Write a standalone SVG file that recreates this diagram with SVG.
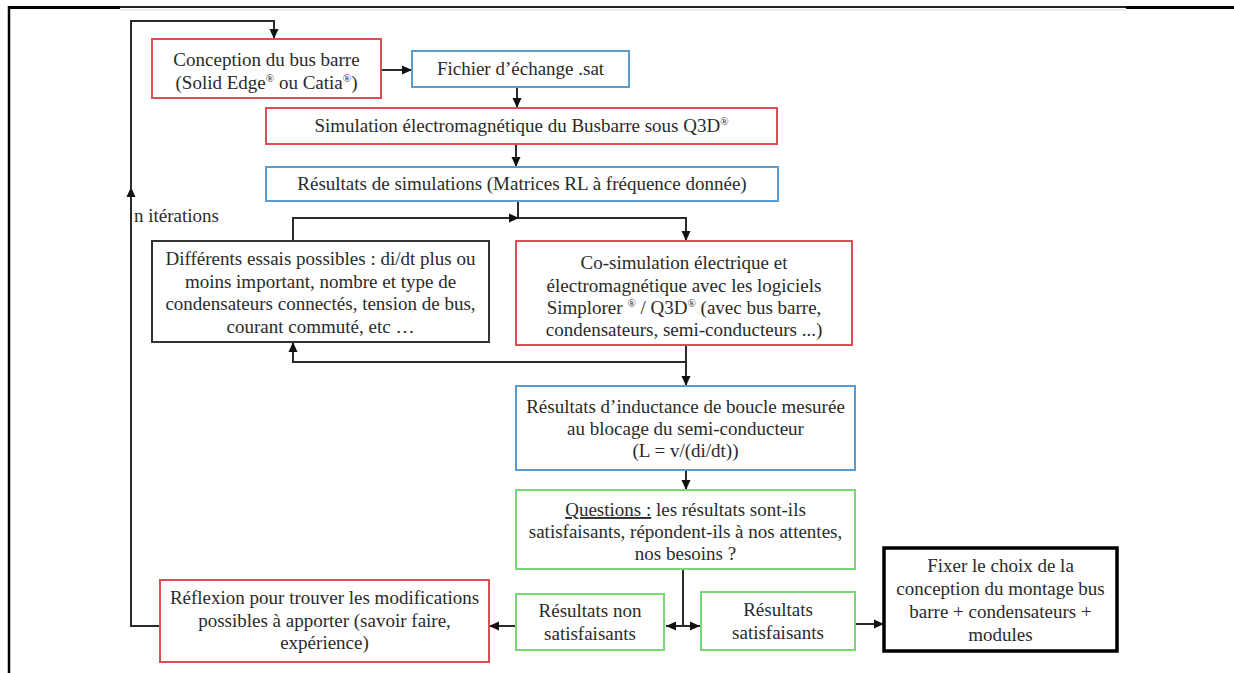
<svg xmlns="http://www.w3.org/2000/svg" width="1234" height="673" viewBox="0 0 1234 673">
<style>
.box{fill:#fff;stroke-width:2}
.red{stroke:#dc4e52}
.blue{stroke:#5b9bd0}
.green{stroke:#78d878}
.dark{stroke:#333}
.black{stroke:#000;stroke-width:3.5}
text{font-family:"Liberation Serif","Times New Roman",serif;font-size:19px;fill:#2a2a2a;text-anchor:middle}
.sup{font-size:11px}
.c{fill:none;stroke:#2a2a2a;stroke-width:2}
.ca{fill:none;stroke:#2a2a2a;stroke-width:2;marker-end:url(#ah)}
</style>
<defs>
<marker id="ah" viewBox="0 0 10 10" refX="10" refY="5" markerWidth="10" markerHeight="10" markerUnits="userSpaceOnUse" orient="auto">
<path d="M0,0.5 L10,5 L0,9.5 z" fill="#111"/>
</marker>
</defs>
<rect width="1234" height="673" fill="#fff"/>
<g id="page-border">
<line x1="9" y1="7" x2="1234" y2="7" stroke="#222" stroke-width="2"/>
<line x1="1126" y1="7.5" x2="1234" y2="7.5" stroke="#000" stroke-width="3"/>
<line x1="9" y1="7.5" x2="120" y2="7.5" stroke="#000" stroke-width="3"/>
<line x1="120" y1="10" x2="1126" y2="10" stroke="#eee" stroke-width="2"/>
<line x1="9" y1="6" x2="9" y2="673" stroke="#000" stroke-width="2.5"/>
</g>
<g id="connectors">
<path class="ca" d="M381,70 H412"/>
<path class="ca" d="M517,87 V108"/>
<path class="ca" d="M516,144 V167"/>
<path class="c" d="M518,201 V218"/>
<path class="ca" d="M293,241 V218 H519"/>
<path class="ca" d="M518,218 H686 V241"/>
<path class="ca" d="M686,345 V386"/>
<path class="ca" d="M686,362 H293 V342"/>
<path class="ca" d="M686,470 V490"/>
<path class="c" d="M683,569 V626"/>
<path class="ca" d="M683,626 H666"/>
<path class="ca" d="M683,626 H700"/>
<path class="ca" d="M516,626 H489"/>
<path class="ca" d="M855,624 H884"/>
<path class="ca" d="M160,626 H131 V187"/>
<path class="ca" d="M131,190 V21 H274 V39"/>
<text x="134" y="222" style="text-anchor:start">n itérations</text>
</g>
<g id="n1">
<rect class="box red" x="152" y="39" width="229" height="59"/>
<text x="266.5" y="66">Conception du bus barre</text>
<text x="266.5" y="89">(Solid Edge<tspan class="sup" dy="-7">®</tspan><tspan dy="7"> ou Catia</tspan><tspan class="sup" dy="-7">®</tspan><tspan dy="7">)</tspan></text>
</g>
<g id="n2">
<rect class="box blue" x="412" y="51" width="217" height="36"/>
<text x="520.5" y="75">Fichier d’échange .sat</text>
</g>
<g id="n3">
<rect class="box red" x="266" y="108" width="511" height="36"/>
<text x="521.5" y="132">Simulation électromagnétique du Busbarre sous Q3D<tspan class="sup" dy="-7">®</tspan></text>
</g>
<g id="n4">
<rect class="box blue" x="266" y="167" width="512" height="34"/>
<text x="522" y="190">Résultats de simulations (Matrices RL à fréquence donnée)</text>
</g>
<g id="n5">
<rect class="box dark" x="152" y="241" width="337" height="101"/>
<text x="320.5" y="265">Différents essais possibles : di/dt plus ou</text>
<text x="320.5" y="288">moins important, nombre et type de</text>
<text x="320.5" y="310">condensateurs connectés, tension de bus,</text>
<text x="320.5" y="333">courant commuté, etc …</text>
</g>
<g id="n6">
<rect class="box red" x="516" y="241" width="336" height="104"/>
<text x="684" y="269">Co-simulation électrique et</text>
<text x="684" y="292">électromagnétique avec les logiciels</text>
<text x="684" y="314">Simplorer <tspan class="sup" dy="-7">®</tspan><tspan dy="7"> / Q3D</tspan><tspan class="sup" dy="-7">®</tspan><tspan dy="7"> (avec bus barre,</tspan></text>
<text x="684" y="336">condensateurs, semi-conducteurs ...)</text>
</g>
<g id="n7">
<rect class="box blue" x="516" y="386" width="339" height="84"/>
<text x="685.5" y="413">Résultats d’inductance de boucle mesurée</text>
<text x="685.5" y="435">au blocage du semi-conducteur</text>
<text x="685.5" y="457">(L = v/(di/dt))</text>
</g>
<g id="n8">
<rect class="box green" x="516" y="490" width="339" height="79"/>
<text x="685.5" y="516"><tspan style="text-decoration:underline">Questions :</tspan> les résultats sont-ils</text>
<text x="685.5" y="538">satisfaisants, répondent-ils à nos attentes,</text>
<text x="685.5" y="560">nos besoins ?</text>
</g>
<g id="n9">
<rect class="box red" x="160" y="580" width="329" height="82"/>
<text x="324.5" y="604">Réflexion pour trouver les modifications</text>
<text x="324.5" y="627">possibles à apporter (savoir faire,</text>
<text x="324.5" y="649">expérience)</text>
</g>
<g id="n10">
<rect class="box green" x="516" y="594" width="148" height="56"/>
<text x="590" y="617">Résultats non</text>
<text x="590" y="640">satisfaisants</text>
</g>
<g id="n11">
<rect class="box green" x="701" y="592" width="154" height="58"/>
<text x="778" y="616">Résultats</text>
<text x="778" y="639">satisfaisants</text>
</g>
<g id="n12">
<rect class="box black" x="884" y="548" width="233" height="103"/>
<text x="1000.5" y="572">Fixer le choix de la</text>
<text x="1000.5" y="595">conception du montage bus</text>
<text x="1000.5" y="618">barre + condensateurs +</text>
<text x="1000.5" y="641">modules</text>
</g>
</svg>
